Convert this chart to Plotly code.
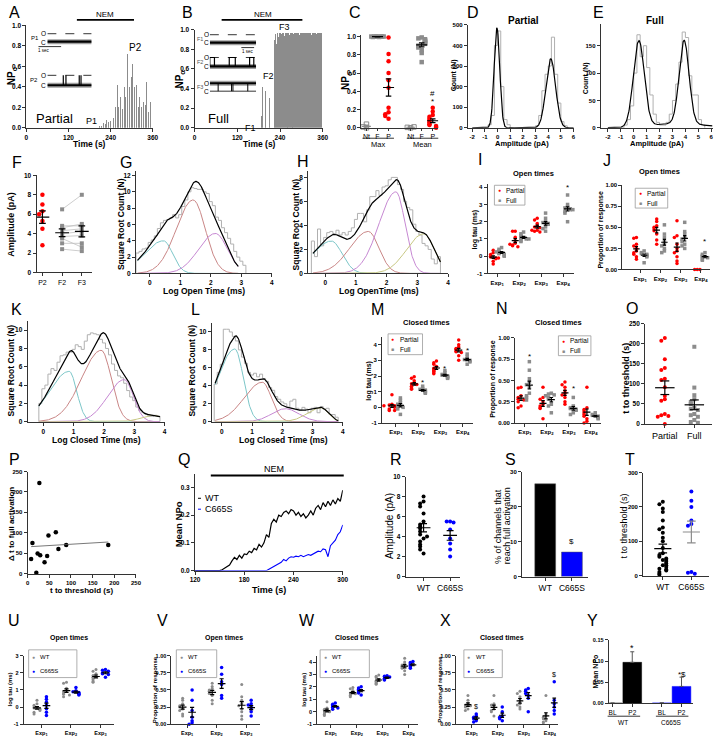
import numpy as np
import plotly.graph_objects as go

W, H = 720, 742
FONT = "Liberation Sans, Arial, Helvetica, sans-serif"
RED = "#ff0000"; GRAY = "#8c8c8c"; BLUE = "#0000ff"; BLK = "#000000"
AXC = "#333333"; HISTC = "#b0b0b0"
CYAN = "#7cc6c8"; ROSE = "#c98686"; PURP = "#c688d2"; OLIVE = "#c8c884"

# ======================= DATA =======================
# A  (partial responder NPo trace)
a_time = list(range(200, 360, 2))
a_npo = [0.00, 0.00, 0.01, 0.00, 0.02, 0.01, 0.03, 0.02, 0.04, 0.02,
         0.05, 0.03, 0.06, 0.04, 0.08, 0.05, 0.10, 0.06, 0.05, 0.09,
         0.07, 0.12, 0.09, 0.15, 0.10, 0.18, 0.12, 0.20, 0.10, 0.15,
         0.42, 0.20, 0.28, 0.15, 0.30, 0.22, 0.35, 0.18, 0.30, 0.25,
         0.40, 0.30, 0.55, 0.35, 0.72, 0.45, 0.60, 0.40, 0.65, 0.73,
         0.50, 0.62, 0.45, 0.55, 0.40, 0.48, 0.30, 0.42, 0.25, 0.35,
         0.20, 0.30, 0.18, 0.28, 0.20, 0.32, 0.15, 0.25, 0.18, 0.30,
         0.22, 0.45, 0.20, 0.35, 0.15, 0.28, 0.12, 0.25, 0.30, 0.20]
a_p2_openings = [0.36, 0.42, 0.72, 0.76]
# B  (full responder NPo trace)
b_f2_time = [184, 188, 191, 195, 199, 203, 206, 210, 214, 218, 221]
b_f2_npo = [0.35, 0.12, 0.42, 0.25, 0.38, 0.15, 0.44, 0.30, 0.40, 0.20, 0.35]
b_f3_time = list(range(224, 360, 2))
b_f3_npo = [0.90, 0.97, 0.96, 0.85, 0.97, 0.97, 0.93, 0.97, 0.97, 0.97,
            0.96, 0.97, 0.97, 0.97, 0.94, 0.97, 0.97, 0.97, 0.97, 0.97,
            0.97, 0.95, 0.97, 0.97, 0.97, 0.97, 0.97, 0.96, 0.97, 0.97,
            0.97, 0.97, 0.97, 0.97, 0.97, 0.95, 0.97, 0.97, 0.97, 0.97,
            0.97, 0.97, 0.97, 0.96, 0.97, 0.97, 0.97, 0.97, 0.97, 0.97,
            0.97, 0.97, 0.95, 0.97, 0.97, 0.97, 0.97, 0.97, 0.97, 0.96,
            0.97, 0.97, 0.97, 0.97, 0.96, 0.97, 0.97, 0.97]
b_f2_bursts = [(0.0, 0.10), (0.42, 0.55), (0.86, 0.95)]
b_f3_closings = [0.18, 0.47, 0.50, 0.82]
# C
c_cats = ["Nt", "F", "P", "Nt", "F", "P"]
c_max_nt = [0.0, 0.01, 0.04]
c_max_f = [1.0, 1.0, 0.995, 1.0, 1.0, 0.995, 1.0, 1.0, 1.0]
c_max_p = [0.99, 0.81, 0.73, 0.60, 0.52, 0.44, 0.22, 0.17, 0.15, 0.13, 0.10]
c_mean_nt = [0.0, 0.005, 0.01]
c_mean_f = [0.99, 0.98, 0.97, 0.96, 0.95, 0.94, 0.93, 0.92, 0.90, 0.88, 0.85, 0.82, 0.72]
c_mean_p = [0.22, 0.18, 0.14, 0.12, 0.10, 0.08, 0.06, 0.04, 0.03, 0.02, 0.01, 0.0, 0.005]
# D  amplitude histogram (partial), bins 0.25 pA from -1.0
d_counts = [0, 15, 60, 400, 470, 200, 40, 15, 0, 0, 0, 0, 0, 0, 0, 0,
            10, 60, 180, 260, 300, 440, 260, 120, 30, 10]
d_mu = [-0.05, 4.2]; d_sd = [0.22, 0.38]; d_amp = [485, 335]
# E  amplitude histogram (full)
e_counts = [0, 5, 15, 40, 100, 170, 130, 150, 110, 60, 25, 10, 5, 5,
            10, 25, 50, 80, 120, 175, 165, 95, 60, 60, 15, 5]
e_mu = [0.4, 3.9, 3.5]; e_sd = [0.42, 0.38, 2.0]; e_amp = [157, 152, 8]
# F
f_p2 = [8.0, 7.0, 6.3, 6.0, 5.3, 4.5, 2.8]
f_f2 = [6.5, 4.8, 4.6, 4.3, 4.0, 3.7, 3.5, 3.0, 2.4]
f_f3 = [8.0, 4.8, 5.0, 4.5, 4.2, 3.8, 2.6, 3.0, 2.2]
# G  open time histogram (partial), bins 0.1 log from -0.45
g_counts = [2.5, 2.7, 3.0, 3.1, 3.8, 4.1, 4.6, 5.5, 6.2, 6.5, 6.6, 6.8, 7.2, 6.8, 7.2,
            8.2, 9.0, 10.0, 10.5, 10.4, 10.3, 10.3, 10.0, 9.8, 8.8, 8.3, 6.9, 6.5, 5.6,
            5.0, 4.3, 3.6, 2.7, 2.0, 1.5, 1.0]
g_mu = [0.45, 1.42, 2.15]; g_sdl = [0.62, 0.55, 0.55]; g_sdr = [0.30, 0.40, 0.40]; g_amp = [4.0, 9.0, 4.9]
# H  open time histogram (full)
h_counts = [2.7, 1.4, 3.7, 2.3, 3.0, 3.4, 3.5, 3.3, 3.6, 3.2, 3.4, 3.2, 3.5, 3.8, 4.5,
            5.0, 5.0, 4.3, 5.3, 6.4, 6.4, 6.9, 6.5, 7.2, 7.3, 7.8, 8.0, 8.0, 7.4, 7.0,
            6.0, 5.5, 5.3, 4.1, 3.5, 3.2, 2.5, 2.3, 2.0, 1.2, 0.8, 1.4]
h_mu = [0.2, 1.4, 2.3, 3.2]; h_sdl = [0.6, 0.6, 0.55, 0.55]; h_sdr = [0.35, 0.35, 0.30, 0.35]; h_amp = [2.7, 3.5, 6.8, 3.3]
# I  open times log tau
i_partial = [[0.35, 0.2, 0.1, 0.0, -0.05, -0.1, -0.15, -0.3, -0.45, -0.1],
             [1.45, 1.45, 1.1, 0.9, 0.75, 0.65, 0.6, 0.55, 0.7],
             [2.2, 2.1, 1.9, 1.75, 1.7, 1.65, 1.5, 1.45, 1.4, 1.5],
             []]
i_full = [[0.5, 0.4, 0.3, 0.2, 0.15, 0.1, 0.05, 0.0, 0.25],
          [1.4, 1.3, 1.2, 1.1, 1.05, 1.0, 0.9, 0.85, 1.0],
          [2.5, 2.2, 2.0, 1.95, 1.9, 1.85, 1.7, 1.6, 1.45],
          [3.55, 3.0, 2.85, 2.8, 2.75, 2.7, 2.6, 2.5, 2.0, 2.7]]
# J  open times proportion
j_partial = [[0.38, 0.37, 0.30, 0.28, 0.25, 0.22, 0.20, 0.18, 0.15, 0.12],
             [0.60, 0.57, 0.52, 0.50, 0.48, 0.46, 0.42, 0.35, 0.30],
             [0.58, 0.40, 0.38, 0.30, 0.25, 0.22, 0.20, 0.15, 0.10, 0.07],
             [0.0, 0.0, 0.0]]
j_full = [[0.22, 0.20, 0.19, 0.18, 0.17, 0.16, 0.15, 0.08],
          [0.53, 0.42, 0.38, 0.33, 0.30, 0.28, 0.25, 0.22, 0.20],
          [0.56, 0.45, 0.42, 0.38, 0.36, 0.33, 0.30, 0.28, 0.25],
          [0.20, 0.18, 0.16, 0.15, 0.14, 0.12, 0.11]]
# K  closed time histogram (partial), bins 0.1 log from -0.15
k_counts = [2.0, 3.6, 4.0, 5.2, 5.8, 5.6, 6.5, 7.2, 7.3, 7.6, 7.6, 7.9, 8.4, 8.2, 7.9,
            8.8, 9.5, 9.7, 9.6, 9.5, 9.0, 8.6, 8.0, 7.3, 6.3, 5.6, 5.0, 4.8, 4.2, 3.4,
            2.7, 2.3, 1.6, 1.2, 1.0, 0.8, 0.6, 0.6, 0.7, 0.6]
k_mu = [0.85, 1.91, 2.67, 3.63]; k_sdl = [0.65, 0.65, 0.55, 0.40]; k_sdr = [0.25, 0.33, 0.30, 0.30]; k_amp = [5.5, 7.8, 4.6, 0.7]
# L  closed time histogram (full), bins 0.1 log from -0.25
l_counts = [4.2, 5.5, 6.4, 10.3, 10.3, 10.0, 9.5, 9.0, 8.0, 7.2, 6.5, 5.5, 5.2, 5.4, 5.0,
            5.3, 4.8, 4.5, 3.8, 3.5, 2.8, 2.5, 2.2, 2.0, 1.6, 2.3, 2.5, 1.5, 1.3, 1.6,
            1.4, 1.0, 1.5, 1.6, 1.0, 1.7, 1.4, 1.5, 0.8, 0.8, 0.5]
l_mu = [0.43, 1.34, 2.10, 3.28]; l_sdl = [0.56, 0.60, 0.45, 0.45]; l_sdr = [0.28, 0.30, 0.45, 0.25]; l_amp = [8.1, 4.4, 1.45, 1.55]
# M  closed times log tau
m_partial = [[0.8, 0.2, 0.15, 0.1, 0.05, 0.0, -0.1, -0.2, -0.2, 0.1],
             [1.95, 1.85, 1.7, 1.55, 1.5, 1.45, 1.35, 1.3, 1.2, 1.15],
             [2.95, 2.85, 2.75, 2.6, 2.5, 2.45, 2.35, 2.3, 2.2, 2.15],
             [4.3, 4.0, 3.85, 3.75, 3.7, 3.6, 3.55, 3.5, 3.3, 3.0]]
m_full = [[0.6, 0.45, 0.3, 0.2, 0.1, 0.05, 0.0, -0.1, -0.45],
          [1.35, 1.2, 1.15, 1.1, 1.05, 1.0, 0.95, 0.9],
          [2.35, 2.2, 2.1, 2.05, 2.0, 1.95, 1.9, 1.85],
          [3.4, 3.25, 3.1, 3.05, 3.0, 2.95, 2.9, 2.75]]
# N  closed times proportion
n_partial = [[0.42, 0.41, 0.32, 0.30, 0.28, 0.27, 0.25, 0.20, 0.18],
             [0.42, 0.30, 0.28, 0.25, 0.22, 0.20, 0.18, 0.17, 0.05],
             [0.48, 0.45, 0.42, 0.38, 0.35, 0.33, 0.30, 0.25, 0.22],
             [0.42, 0.18, 0.16, 0.14, 0.12, 0.10, 0.08, 0.05, 0.02, 0.0]]
n_full = [[0.72, 0.62, 0.52, 0.48, 0.45, 0.42, 0.35, 0.32, 0.30, 0.27],
          [0.35, 0.34, 0.33, 0.32, 0.30, 0.28, 0.22, 0.20, 0.12],
          [0.30, 0.20, 0.18, 0.17, 0.16, 0.15, 0.12, 0.10],
          [0.12, 0.10, 0.09, 0.08, 0.07, 0.06, 0.05]]
# O  time to threshold
o_partial = [215, 208, 162, 140, 135, 113, 110, 92, 70, 62, 58, 25, 22, 20, 18, 0]
o_full = [193, 91, 72, 62, 55, 50, 40, 38, 35, 25, 22, 18, 10, 5, 3]
# P  correlation
p_t_threshold = [8, 11, 20, 23, 29, 27, 39, 45, 48, 65, 71, 89, 186]
p_dt_full = [36, 75, 2, 49, 45, 222, 28, 43, 93, 101, 60, 70, 70]
# Q  mean NPo time course
q_time = list(range(120, 301, 3))
q_wt = [0.0] * 11 + [0.003, 0.008, 0.012, 0.02, 0.035, 0.048, 0.04, 0.055, 0.045, 0.06,
                     0.058, 0.07, 0.065, 0.08, 0.075, 0.095, 0.085, 0.1, 0.13, 0.12,
                     0.17, 0.185, 0.175, 0.2, 0.195, 0.21, 0.215, 0.205, 0.22, 0.215,
                     0.2, 0.21, 0.195, 0.205, 0.19, 0.2, 0.215, 0.2, 0.225, 0.235,
                     0.22, 0.245, 0.23, 0.25, 0.235, 0.255, 0.24, 0.26, 0.25, 0.29]
q_c665s = [0.0] * 30 + [0.005, 0.01, 0.015, 0.02, 0.025, 0.03, 0.04, 0.035, 0.045, 0.05,
                        0.048, 0.052, 0.05, 0.055, 0.05, 0.055, 0.058, 0.055, 0.06, 0.065,
                        0.07, 0.068, 0.078, 0.075, 0.05, 0.09, 0.1, 0.11, 0.13, 0.14, 0.165]
# R, S, T
r_wt = [8.0, 7.5, 7.3, 7.0, 3.8, 6.3, 5.5, 5.2, 5.0, 4.8, 4.5, 4.2, 4.0, 3.5, 3.2, 3.0, 2.7, 2.3]
r_c665s = [5.5, 5.5, 5.4, 4.7, 3.8, 3.3, 2.7, 2.0]
s_groups = ["WT", "C665S"]
s_pct_full = [26.5, 7.0]
t_wt = [215, 208, 195, 185, 160, 140, 135, 125, 110, 100, 45, 30, 80, 65, 60, 55, 50, 45, 40, 35,
        30, 25, 20, 18, 15, 10, 5, 2]
t_c665s = [245, 218, 200, 160, 150, 145, 10, 8, 5]
# U-X  WT vs C665S kinetics
u_wt = [[0.4, 0.2, 0.1, 0.0, -0.05, -0.1, -0.15, -0.2, -0.3, -0.4],
        [1.45, 1.4, 1.1, 0.95, 0.9, 0.8, 0.75, 0.7, 0.6],
        [2.2, 2.1, 1.95, 1.85, 1.75, 1.7, 1.6, 1.5, 1.45]]
u_c665s = [[0.6, 0.45, 0.3, 0.1, -0.1, -0.3, -0.5],
           [1.15, 0.95, 0.9, 0.85, 0.8, 0.75, 0.7],
           [2.2, 2.15, 2.1, 2.0, 1.95, 1.9, 1.75]]
v_wt = [[0.38, 0.35, 0.30, 0.27, 0.25, 0.22, 0.20, 0.15, 0.12],
        [0.60, 0.55, 0.52, 0.50, 0.48, 0.45, 0.42, 0.35, 0.30],
        [0.58, 0.40, 0.35, 0.30, 0.27, 0.22, 0.18, 0.12, 0.07]]
v_c665s = [[0.50, 0.35, 0.20, 0.10, 0.05, 0.02, 0.0],
           [0.83, 0.73, 0.62, 0.58, 0.42, 0.38],
           [0.35, 0.30, 0.28, 0.25, 0.22, 0.18, 0.12]]
w_wt = [[0.8, 0.3, 0.2, 0.1, 0.05, 0.0, -0.1, -0.2, -0.3],
        [1.95, 1.85, 1.7, 1.55, 1.5, 1.45, 1.35, 1.3, 1.2],
        [2.95, 2.85, 2.75, 2.6, 2.5, 2.45, 2.35, 2.3, 2.2],
        [4.3, 4.0, 3.85, 3.75, 3.65, 3.6, 3.5, 3.3, 3.0]]
w_c665s = [[0.7, 0.6, 0.5, 0.4, 0.35, 0.3, 0.2],
           [2.0, 1.9, 1.8, 1.7, 1.6, 1.5, 1.35],
           [2.9, 2.85, 2.8, 2.7, 2.6, 2.55],
           [4.05, 3.95, 3.85, 3.75, 3.7, 3.6, 3.5]]
x_wt = [[0.42, 0.35, 0.30, 0.28, 0.27, 0.25, 0.22, 0.20],
        [0.42, 0.30, 0.28, 0.25, 0.22, 0.20, 0.18, 0.12],
        [0.48, 0.45, 0.40, 0.35, 0.30, 0.28, 0.25, 0.22],
        [0.42, 0.15, 0.12, 0.10, 0.08, 0.05, 0.03, 0.02]]
x_c665s = [[0.15, 0.12, 0.10, 0.08, 0.05, 0.03],
           [0.25, 0.18, 0.12, 0.10, 0.08, 0.05],
           [0.52, 0.50, 0.48, 0.45, 0.42, 0.38, 0.18],
           [0.62, 0.35, 0.30, 0.25, 0.20, 0.15]]
# Y  mean NPo baseline vs P2
y_conditions = ["BL", "P2"]
y_wt = [0.0005, 0.097]; y_wt_err = [0.0, 0.025]
y_c665s = [0.001, 0.040]; y_c665s_err = [0.0, 0.022]
exp3 = ["Exp<sub>1</sub>", "Exp<sub>2</sub>", "Exp<sub>3</sub>"]
exp4 = exp3 + ["Exp<sub>4</sub>"]

# ======================= HELPERS =======================
fig = go.Figure()
ann, shp = [], []
lay = dict(width=W, height=H, margin=dict(l=0, r=0, t=0, b=0, pad=0),
           paper_bgcolor="white", plot_bgcolor="rgba(0,0,0,0)", showlegend=False,
           font=dict(family=FONT, size=7, color="black"), barmode="overlay", bargap=0)
cnt = [0]


def fx(x):
    return x / W


def fy(y):
    return 1 - y / H


def axes(x0, x1, yt, yb, xr, yr, xtv=None, xtt=None, ytv=None, ytt=None,
         tfs=6.5, bold=True, xbold=None, xtfs=None, hidden=False, xticklen=3):
    cnt[0] += 1
    k = "" if cnt[0] == 1 else str(cnt[0])
    if xbold is None:
        xbold = bold
    tf = dict(family=FONT, size=tfs, color="black", weight="bold" if bold else "normal")
    xtf = dict(family=FONT, size=xtfs or tfs, color="black", weight="bold" if xbold else "normal")
    base = dict(showgrid=False, zeroline=False, showline=not hidden, linecolor=AXC, linewidth=1,
                ticks="" if hidden else "outside", ticklen=3, tickwidth=1, tickcolor=AXC,
                showticklabels=not hidden, fixedrange=True)
    xa = dict(base, domain=[fx(x0), fx(x1)], range=xr, anchor="y" + k, tickfont=xtf, ticklen=xticklen)
    ya = dict(base, domain=[fy(yb), fy(yt)], range=yr, anchor="x" + k, tickfont=tf)
    if xtv is not None:
        xa.update(tickmode="array", tickvals=xtv, ticktext=xtt if xtt is not None else [str(v) for v in xtv])
    if ytv is not None:
        ya.update(tickmode="array", tickvals=ytv, ticktext=ytt if ytt is not None else [str(v) for v in ytv])
    lay["xaxis" + k] = xa
    lay["yaxis" + k] = ya
    return ("x" + k, "y" + k)


def sc(ax, x, y, **kw):
    fig.add_trace(go.Scatter(x=list(x), y=list(y), xaxis=ax[0], yaxis=ax[1], cliponaxis=False,
                             hoverinfo="skip", **kw))


def txt(x, y, s, size=7, bold=False, color="black", angle=0, xanchor="center", yanchor="middle", ref=None):
    d = dict(text=s, showarrow=False,
             font=dict(family=FONT, size=size, color=color, weight="bold" if bold else "normal"),
             textangle=angle, xanchor=xanchor, yanchor=yanchor)
    if ref is None:
        d.update(x=fx(x), y=fy(y), xref="paper", yref="paper")
    else:
        d.update(x=x, y=y, xref=ref[0], yref=ref[1])
    ann.append(d)


def hline(x0, x1, y, width=1.0, color="black"):
    shp.append(dict(type="line", xref="paper", yref="paper", x0=fx(x0), x1=fx(x1),
                    y0=fy(y), y1=fy(y), line=dict(color=color, width=width)))


def letter(x, y, s):
    txt(x, y, s, size=16)


def swarm(vals, step, tol):
    pattern = [0, -1, 1, -2, 2, -3, 3, -4, 4, -5, 5]
    offs, seen = [], []
    for v in vals:
        k = sum(1 for s in seen if abs(s - v) < tol)
        offs.append(pattern[min(k, 10)] * step)
        seen.append(v)
    return offs


def dots(ax, xc, vals, color, sym="circle", size=4, step=0.1, tol=0.1, mean=True,
         mw=0.2, cw=0.1, mcol="black", mlw=1.2):
    if len(vals) == 0:
        return
    offs = swarm(vals, step, tol)
    sc(ax, [xc + o for o in offs], vals, mode="markers",
       marker=dict(color=color, size=size, symbol=sym, line=dict(width=1 if "open" in sym else 0, color=color)))
    if mean and len(vals) > 1:
        m = float(np.mean(vals))
        s = float(np.std(vals, ddof=1) / np.sqrt(len(vals)))
        xs = [xc - mw, xc + mw, None, xc, xc, None, xc - cw, xc + cw, None, xc - cw, xc + cw]
        ys = [m, m, None, m - s, m + s, None, m - s, m - s, None, m + s, m + s]
        sc(ax, xs, ys, mode="lines", line=dict(color=mcol, width=mlw))


def stairs(ax, start, width, counts, color=HISTC):
    edges = start + width * np.arange(len(counts) + 1)
    xs, ys = [edges[0]], [0]
    for i, c in enumerate(counts):
        xs += [edges[i], edges[i + 1]]
        ys += [c, c]
    xs.append(edges[-1]); ys.append(0)
    sc(ax, xs, ys, mode="lines", line=dict(color=color, width=1))


def comp(x, m, sl, sr, a):
    s = np.where(x < m, sl, sr)
    return a * np.exp(-0.5 * ((x - m) / s) ** 2)


def fits(ax, x0, x1, mus, sdl, sdr, amps, cols, total_w=1.2):
    xg = np.linspace(x0, x1, 300)
    tot = np.zeros_like(xg)
    for m, a_, b_, amp, c in zip(mus, sdl, sdr, amps, cols):
        yv = comp(xg, m, a_, b_, amp)
        tot += yv
        if c is not None:
            sc(ax, xg, yv, mode="lines", line=dict(color=c, width=1))
    sc(ax, xg, tot, mode="lines", line=dict(color=BLK, width=total_w))


def legend_box(x0, y0, x1, y1, entries, size=6.5):
    shp.append(dict(type="rect", xref="paper", yref="paper", x0=fx(x0), x1=fx(x1),
                    y0=fy(y1), y1=fy(y0), line=dict(color="#999999", width=0.8)))
    n = len(entries)
    for i, (glyph, col, label) in enumerate(entries):
        yy = y0 + (y1 - y0) * (i + 0.5) / n
        txt(x0 + 5, yy, glyph, size=5, color=col)
        txt(x0 + 10, yy, label, size=size, xanchor="left")


def inset(x0, x1, yO, yC):
    span = yC - yO
    return axes(x0, x1, yO - 0.5 * span, yC + 0.5 * span, [0, 1], [-0.5, 1.5], hidden=True)


def closed_trace(ax, openings=(), bursts=()):
    sc(ax, [0, 1], [1, 1], mode="lines", line=dict(color=BLK, width=0.8, dash="dash"))
    sc(ax, [0, 1], [0, 0], mode="lines", line=dict(color="#a0a0a0", width=5))
    sc(ax, [0, 1], [0, 0], mode="lines", line=dict(color=BLK, width=2.2))
    xs, ys = [], []
    for t in openings:
        xs += [t, t, None]; ys += [0, 1, None]
    for a_, b_ in bursts:
        xs += [a_, a_, b_, b_, None]; ys += [0, 1, 1, 0, None]
    if xs:
        sc(ax, xs, ys, mode="lines", line=dict(color=BLK, width=1.2))


def open_trace(ax, closings=()):
    sc(ax, [0, 1], [1, 1], mode="lines", line=dict(color="#a0a0a0", width=5))
    sc(ax, [0, 1], [1, 1], mode="lines", line=dict(color=BLK, width=2.2))
    sc(ax, [0, 1], [0, 0], mode="lines", line=dict(color=BLK, width=0.8))
    xs, ys = [], []
    for t in closings:
        xs += [t, t, None]; ys += [1, 0, None]
    sc(ax, xs, ys, mode="lines", line=dict(color=BLK, width=1))


npo_t = ["0.0", "0.2", "0.4", "0.6", "0.8", "1.0"]
npo_v = [0, 0.2, 0.4, 0.6, 0.8, 1.0]
prop_v = [0, 0.25, 0.5, 0.75, 1.0]
prop_t = ["0.00", "0.25", "0.50", "0.75", "1.00"]

# ======================= ROW 1 =======================
# A
axA = axes(21.7, 150, 21.7, 125, [0, 360], [0, 1], xtv=[0, 120, 240, 360], ytv=npo_v, ytt=npo_t)
fig.add_trace(go.Bar(x=a_time, y=a_npo, width=1.1, marker=dict(color="#8c8c8c", line=dict(width=0)),
                     xaxis=axA[0], yaxis=axA[1], hoverinfo="skip"))
letter(10, 9, "A")
txt(7, 73, "NP<sub>o</sub>", size=10, bold=True, angle=-90)
txt(86, 141, "Time (s)", size=8.5, bold=True)
txt(29, 116, "Partial", size=13, xanchor="left")
txt(88, 118, "P1", size=9)
txt(133, 44, "P2", size=10)
txt(102, 11, "NEM", size=8)
hline(73, 131, 16, width=1.8)
axA1 = inset(43, 88, 30, 38)
closed_trace(axA1)
axA2 = inset(43, 88, 72, 82)
closed_trace(axA2, openings=a_p2_openings)
for (xx, yy, s) in [(30, 34, "P1"), (39, 30, "O"), (39, 38.5, "C"), (29, 77, "P2"), (39, 72, "O"), (39, 82, "C")]:
    txt(xx, yy, s, size=6.5 if s in ("O", "C") else 6)
hline(34, 57, 43, width=0.8)
txt(40, 47, "1 sec", size=4.5)

# B
axB = axes(192.5, 322.7, 26, 125, [0, 360], [0, 1], xtv=[0, 120, 240, 360], ytv=npo_v, ytt=npo_t)
fig.add_trace(go.Bar(x=b_f2_time, y=b_f2_npo, width=1.0, marker=dict(color="#8c8c8c", line=dict(width=0)),
                     xaxis=axB[0], yaxis=axB[1], hoverinfo="skip"))
fig.add_trace(go.Bar(x=b_f3_time, y=b_f3_npo, width=2.05, marker=dict(color="#8c8c8c", line=dict(width=0)),
                     xaxis=axB[0], yaxis=axB[1], hoverinfo="skip"))
letter(185, 9, "B")
txt(178, 76, "NP<sub>o</sub>", size=10, bold=True, angle=-90)
txt(258, 141, "Time (s)", size=8.5, bold=True)
txt(204, 116, "Full", size=13, xanchor="left")
txt(249, 125, "F1", size=9)
txt(268, 73, "F2", size=9)
txt(284, 23, "F3", size=9)
txt(262, 11, "NEM", size=8)
hline(220, 302, 16, width=1.8)
axB1 = inset(208, 255, 31, 39)
closed_trace(axB1)
axB2 = inset(208, 255, 54, 63)
closed_trace(axB2, bursts=b_f2_bursts)
axB3 = inset(208, 255, 80, 88)
open_trace(axB3, closings=b_f3_closings)
for (xx, yy, s) in [(198, 35, "F1"), (205, 31, "O"), (205, 39, "C"), (198, 59, "F2"), (205, 54, "O"),
                    (205, 63, "C"), (198, 84, "F3"), (205, 80, "O"), (205, 88, "C")]:
    txt(xx, yy, s, size=6.5 if s in ("O", "C") else 5.5, color="#555555" if s[0] == "F" else "black")
hline(240, 253, 44, width=0.8)
txt(247, 48, "1 sec", size=4.5)

# C
axC = axes(362, 440, 31, 125, [-0.45, 6.5], [0, 1.02], xtv=[0, 1, 2, 4, 5, 6], xtt=c_cats,
           ytv=npo_v, ytt=npo_t, xbold=False, xtfs=7, xticklen=2)
dots(axC, 0, c_max_nt, GRAY, "square-open", 4.5, 0.3, 0.03, mw=0.4, cw=0.2, mcol=GRAY)
dots(axC, 1, c_max_f, GRAY, "square", 4.5, 0.14, 0.02, mw=0.5, cw=0.25)
dots(axC, 2, c_max_p, RED, "circle", 4.5, 0.3, 0.025, mw=0.5, cw=0.25)
dots(axC, 4, c_mean_nt, GRAY, "square-open", 4.5, 0.3, 0.03, mw=0.4, cw=0.2, mcol=GRAY)
dots(axC, 5, c_mean_f, GRAY, "square", 4.5, 0.3, 0.025, mw=0.5, cw=0.25)
dots(axC, 6, c_mean_p, RED, "circle", 4.5, 0.3, 0.025, mw=0.5, cw=0.25)
for (xx, yy, s) in [(1, 1.08, "#"), (2, 1.14, "#"), (2, 1.06, "*"), (5, 1.09, "#"), (6, 0.38, "#"), (6, 0.29, "*")]:
    txt(xx, yy, s, size=8, ref=axC)
letter(355, 9, "C")
txt(347, 78, "NP<sub>o</sub>", size=10, bold=True, angle=-90)
hline(363, 395, 135.5, width=0.8)
hline(408, 440, 135.5, width=0.8)
txt(379, 141.5, "Max", size=7.5)
txt(424, 141.5, "Mean", size=7.5)

# D
axD = axes(470, 578, 21, 125, [-2.35, 6.05], [0, 500], xtv=list(range(-2, 7)),
           ytv=[0, 100, 200, 300, 400, 500], tfs=6)
stairs(axD, -1.0, 0.25, d_counts)
fits(axD, -2.0, 6.0, d_mu, d_sd, d_sd, d_amp, [None, None])
letter(475, 9, "D")
txt(527, 17, "Partial", size=10, bold=True)
txt(456, 72, "Count (N)", size=7, bold=True, angle=-90)
txt(525, 141, "Amplitude (pA)", size=7.5, bold=True)

# E
axE = axes(605, 718.5, 20, 125, [-2.55, 6.1], [0, 190], xtv=list(range(-2, 7)),
           ytv=[0, 50, 100, 150], tfs=6)
stairs(axE, -1.0, 0.25, e_counts)
fits(axE, -2.0, 6.1, e_mu, e_sd, e_sd, e_amp, [None, None, None])
letter(603, 9, "E")
txt(660, 17, "Full", size=10, bold=True)
txt(590, 75, "Count (N)", size=7, bold=True, angle=-90)
txt(662, 141, "Amplitude (pA)", size=7.5, bold=True)

# ======================= ROW 2 =======================
# F
axF = axes(32, 88, 173, 271, [-0.3, 2.5], [0, 10], xtv=[0, 1, 2], xtt=["P2", "F2", "F3"],
           ytv=[0, 2, 4, 6, 8, 10], xbold=False, xtfs=7)
sc(axF, sum([[1, 2, None] for _ in f_f2], []), sum([[a_, b_, None] for a_, b_ in zip(f_f2, f_f3)], []),
   mode="lines", line=dict(color="#c0c0c0", width=0.8))
dots(axF, 0, f_p2, RED, "circle", 4.5, 0.17, 0.3, mw=0.35, cw=0.17)
sc(axF, [1] * len(f_f2), f_f2, mode="markers", marker=dict(color=GRAY, size=4, symbol="square"))
sc(axF, [2] * len(f_f3), f_f3, mode="markers", marker=dict(color=GRAY, size=4, symbol="square"))
dots(axF, 1, f_f2, GRAY, "square", 0.1, 0.0, 0.3, mw=0.35, cw=0.17)
dots(axF, 2, f_f3, GRAY, "square", 0.1, 0.0, 0.3, mw=0.35, cw=0.17)
letter(12, 160, "F")
txt(6, 222, "Amplitude (pA)", size=9, bold=True, angle=-90)

# G
axG = axes(133, 271, 169, 272, [-0.45, 4], [0, 12.5], xtv=[0, 1, 2, 3, 4],
           ytv=[0, 2, 4, 6, 8, 10, 12])
stairs(axG, -0.45, 0.1, g_counts)
fits(axG, -0.4, 2.9, g_mu, g_sdl, g_sdr, g_amp, [CYAN, ROSE, PURP])
letter(123, 160, "G")
txt(118, 222, "Square Root Count (N)", size=8.5, bold=True, angle=-90)
txt(202, 290, "Log Open Time (ms)", size=8.5, bold=True)

# H
axH = axes(308, 450, 169, 272, [-0.55, 4], [0, 8.5], xtv=[0, 1, 2, 3, 4], ytv=[0, 2, 4, 6, 8])
stairs(axH, -0.45, 0.1, h_counts)
fits(axH, -0.4, 3.75, h_mu, h_sdl, h_sdr, h_amp, [CYAN, ROSE, PURP, OLIVE])
letter(303, 159, "H")
txt(295, 222, "Square Root Count (N)", size=8.5, bold=True, angle=-90)
txt(380, 290, "Log OpenTime (ms)", size=8.5, bold=True)

# I
axI = axes(490, 578, 181.5, 272, [0.56, 4.5], [-1, 4.2], xtv=[1, 2, 3, 4], xtt=exp4,
           ytv=[-1, 0, 1, 2, 3, 4], tfs=6)
for i in range(4):
    dots(axI, i + 1 - 0.18, i_partial[i], RED, "circle", 3.5, 0.12, 0.12, mw=0.16, cw=0.08)
    dots(axI, i + 1 + 0.2, i_full[i], GRAY, "square", 3.5, 0.12, 0.12, mw=0.16, cw=0.08)
txt(4.2, 4.0, "*", size=8, ref=axI)
letter(482, 157, "I")
txt(537, 171, "Open times", size=7.5, bold=True)
txt(477, 228, "log tau (ms)", size=7, bold=True, angle=-90)
legend_box(497, 183, 528, 203, [("●", RED, "Partial"), ("■", GRAY, "Full")])

# J
axJ = axes(627, 716, 183, 268, [0.13, 4.45], [0, 1.0], xtv=[1, 2, 3, 4], xtt=exp4,
           ytv=prop_v, ytt=prop_t, tfs=6)
for i in range(4):
    dots(axJ, i + 1 - 0.18, j_partial[i], RED, "circle", 3.5, 0.13, 0.03, mw=0.16, cw=0.08,
         mean=(i < 3))
    dots(axJ, i + 1 + 0.2, j_full[i], GRAY, "square", 3.5, 0.13, 0.03, mw=0.16, cw=0.08)
txt(4.2, 0.33, "*", size=8, ref=axJ)
letter(611, 158, "J")
txt(665, 169, "Open times", size=7.5, bold=True)
txt(605, 228, "Proportion of response", size=7, bold=True, angle=-90)
legend_box(640, 186, 673, 206, [("●", RED, "Partial"), ("■", GRAY, "Full")])

# ======================= ROW 3 =======================
# K
axK = axes(23, 162, 320, 421.7, [-0.52, 4], [0, 11], xtv=[0, 1, 2, 3, 4], ytv=[0, 2, 4, 6, 8, 10])
stairs(axK, -0.15, 0.1, k_counts)
fits(axK, -0.15, 3.85, k_mu, k_sdl, k_sdr, k_amp, [CYAN, ROSE, PURP, OLIVE])
letter(12, 308, "K")
txt(6, 370, "Square Root Count (N)", size=8.5, bold=True, angle=-90)
txt(93, 440, "Log Closed Time (ms)", size=8.5, bold=True)

# L
axL = axes(210, 343, 322, 421.7, [-0.33, 4], [0, 11], xtv=[0, 1, 2, 3, 4], ytv=[0, 2, 4, 6, 8, 10])
stairs(axL, -0.25, 0.1, l_counts)
fits(axL, -0.22, 3.85, l_mu, l_sdl, l_sdr, l_amp, [CYAN, ROSE, PURP, OLIVE])
letter(193, 308, "L")
txt(189, 370, "Square Root Count (N)", size=8.5, bold=True, angle=-90)
txt(283, 440, "Log Closed Time (ms)", size=8.5, bold=True)

# M
axM = axes(383, 475, 336, 423, [0.38, 4.45], [-1, 4.5], xtv=[1, 2, 3, 4], xtt=exp4,
           ytv=[-1, 0, 1, 2, 3, 4], tfs=6)
for i in range(4):
    dots(axM, i + 1 - 0.18, m_partial[i], RED, "circle", 3.5, 0.12, 0.12, mw=0.16, cw=0.08)
    dots(axM, i + 1 + 0.2, m_full[i], GRAY, "square", 3.5, 0.12, 0.12, mw=0.16, cw=0.08)
for (xx, yy) in [(2.2, 1.6), (3.2, 2.5), (4.2, 3.65)]:
    txt(xx, yy, "*", size=8, ref=axM)
letter(378, 308, "M")
txt(428, 322, "Closed times", size=7.5, bold=True)
txt(370, 380, "log tau (ms)", size=7, bold=True, angle=-90)
legend_box(389, 333, 424, 354, [("●", RED, "Partial"), ("■", GRAY, "Full")])

# N
axN = axes(518, 605, 337, 423, [0.55, 4.45], [0, 1.0], xtv=[1, 2, 3, 4], xtt=exp4,
           ytv=prop_v, ytt=prop_t, tfs=6)
for i in range(4):
    dots(axN, i + 1 - 0.18, n_partial[i], RED, "circle", 3.5, 0.13, 0.03, mw=0.16, cw=0.08)
    dots(axN, i + 1 + 0.2, n_full[i], GRAY, "square", 3.5, 0.13, 0.03, mw=0.16, cw=0.08)
for (xx, yy) in [(1.2, 0.78), (3.2, 0.41)]:
    txt(xx, yy, "*", size=8, ref=axN)
letter(505, 307, "N")
txt(562, 322, "Closed times", size=7.5, bold=True)
txt(496, 378, "Proportion of response", size=7, bold=True, angle=-90)
legend_box(562, 335, 595, 355, [("●", RED, "Partial"), ("■", GRAY, "Full")])

# O
axO = axes(650, 718, 323, 424, [-0.67, 1.6], [0, 250], xtv=[0, 1], xtt=["Partial", "Full"],
           ytv=[0, 50, 100, 150, 200, 250], xbold=False, xtfs=9)
dots(axO, 0, o_partial, RED, "circle", 4, 0.12, 8, mw=0.33, cw=0.15)
dots(axO, 1, o_full, GRAY, "square", 4, 0.12, 8, mw=0.33, cw=0.15)
letter(637, 307, "O")
txt(631, 378, "t to threshold (s)", size=9, bold=True, angle=-90)

# ======================= ROW 4 =======================
# P
axP = axes(23, 133, 472, 575, [0, 250], [0, 250], xtv=[0, 50, 100, 150, 200, 250],
           ytv=[0, 50, 100, 150, 200, 250], tfs=6)
sc(axP, p_t_threshold, p_dt_full, mode="markers", marker=dict(color=BLK, size=4.5))
slope, icpt = np.polyfit(p_t_threshold, p_dt_full, 1)
xl = np.array([min(p_t_threshold), max(p_t_threshold)])
sc(axP, xl, slope * xl + icpt, mode="lines", line=dict(color="#555555", width=0.8))
letter(10, 460, "P")
txt(6, 525, "Δ t to full activation", size=8, bold=True, angle=-90)
txt(78, 592, "t to threshold (s)", size=8, bold=True)

# Q
axQ = axes(193, 343, 474, 572, [120, 300], [0, 0.35], xtv=[120, 180, 240, 300],
           ytv=[0, 0.1, 0.2, 0.3], ytt=["0.0", "0.1", "0.2", "0.3"])
sc(axQ, q_time, q_wt, mode="lines", line=dict(color=BLK, width=1.2))
sc(axQ, q_time, q_c665s, mode="lines", line=dict(color=BLUE, width=1.1))
letter(182, 460, "Q")
txt(176, 525, "Mean NPo", size=9.5, bold=True, angle=-90)
txt(268, 592, "Time (s)", size=9, bold=True)
txt(273, 469, "NEM", size=9)
hline(209, 344, 476, width=2)
hline(196, 199, 499, width=1, color=BLK)
txt(201, 499, "WT", size=9, xanchor="left")
hline(196, 199, 510, width=1, color=BLUE)
txt(201, 510, "C665S", size=9, xanchor="left")

# R
axR = axes(407, 462, 477, 578, [-0.67, 1.37], [0, 10], xtv=[0, 1], xtt=s_groups,
           ytv=[0, 2, 4, 6, 8, 10], xbold=False, xtfs=8.5)
dots(axR, 0, r_wt, BLK, "circle", 4, 0.13, 0.3, mw=0.26, cw=0.13)
dots(axR, 1, r_c665s, BLUE, "circle", 4, 0.13, 0.3, mw=0.26, cw=0.13)
letter(397, 460, "R")
txt(390, 527, "Amplitude (pA)", size=10, angle=-90)

# S
axS = axes(525, 592, 472, 578, [-0.87, 1.6], [0, 30], xtv=[0, 1], xtt=s_groups,
           ytv=[0, 10, 20, 30], xbold=False, xtfs=8.5, tfs=6)
fig.add_trace(go.Bar(x=[0, 1], y=s_pct_full, width=0.78, marker=dict(color=[BLK, BLUE], line=dict(color="#555555", width=0.5)),
                     xaxis=axS[0], yaxis=axS[1], hoverinfo="skip"))
txt(1, 10.0, "$", size=8, ref=axS)
letter(513, 460, "S")
txt(500.5, 527, "% of channels that", size=9, angle=-90)
txt(510, 527, "reach full activation", size=9, angle=-90)

# T
axT = axes(648, 715, 473, 577, [-0.69, 1.62], [0, 300], xtv=[0, 1], xtt=s_groups,
           ytv=[0, 100, 200, 300], xbold=False, xtfs=8.5, tfs=6)
dots(axT, 0, t_wt, BLK, "circle", 4, 0.12, 8, mw=0.3, cw=0.15)
dots(axT, 1, t_c665s, BLUE, "circle", 4, 0.12, 8, mw=0.3, cw=0.15, mcol=GRAY)
letter(635, 460, "T")
txt(629, 527, "t to threshold (s)", size=9, angle=-90)

# ======================= ROW 5 =======================
WTC = "#8c8c8c"
# U
axU = axes(19, 111, 658, 727, [0.4, 3.47], [-1, 3], xtv=[1, 2, 3], xtt=exp3, ytv=[-1, 0, 1, 2, 3], tfs=5.5)
for i in range(3):
    dots(axU, i + 1 - 0.15, u_wt[i], WTC, "circle", 3, 0.1, 0.12, mw=0.13, cw=0.07)
    dots(axU, i + 1 + 0.17, u_c665s[i], BLUE, "circle", 3.5, 0.1, 0.12, mw=0.13, cw=0.07)
letter(9, 622, "U")
txt(65, 640, "Open times", size=7, bold=True)
txt(6, 692, "log tau (ms)", size=6, bold=True, angle=-90)
legend_box(24, 652, 73, 680, [("●", WTC, "WT"), ("●", BLUE, "C665S")], size=6)

# V
axV = axes(169, 259, 658, 727, [0.47, 3.47], [0, 1.0], xtv=[1, 2, 3], xtt=exp3, ytv=prop_v, ytt=prop_t, tfs=5.5)
for i in range(3):
    dots(axV, i + 1 - 0.15, v_wt[i], WTC, "circle", 3, 0.1, 0.03, mw=0.13, cw=0.07)
    dots(axV, i + 1 + 0.17, v_c665s[i], BLUE, "circle", 3.5, 0.1, 0.03, mw=0.13, cw=0.07)
letter(160, 622, "V")
txt(222, 640, "Open times", size=7, bold=True)
txt(153, 692, "Proportion of response", size=6, bold=True, angle=-90)
legend_box(174, 652, 215, 680, [("●", WTC, "WT"), ("●", BLUE, "C665S")], size=6)

# W
axW = axes(317, 419, 658, 727, [0.47, 4.35], [-1, 4.5], xtv=[1, 2, 3, 4], xtt=exp4, ytv=[-1, 0, 1, 2, 3, 4], tfs=5.5)
for i in range(4):
    dots(axW, i + 1 - 0.15, w_wt[i], WTC, "circle", 3, 0.1, 0.12, mw=0.13, cw=0.07)
    dots(axW, i + 1 + 0.17, w_c665s[i], BLUE, "circle", 3.5, 0.1, 0.12, mw=0.13, cw=0.07)
letter(307, 622, "W")
txt(357, 640, "Closed times", size=7, bold=True)
txt(304, 692, "log tau (ms)", size=6, bold=True, angle=-90)
legend_box(320, 652, 370, 680, [("●", WTC, "WT"), ("●", BLUE, "C665S")], size=6)

# X
axX = axes(458, 562, 658, 727, [0.39, 4.33], [0, 1.0], xtv=[1, 2, 3, 4], xtt=exp4, ytv=prop_v, ytt=prop_t, tfs=5.5)
for i in range(4):
    dots(axX, i + 1 - 0.15, x_wt[i], WTC, "circle", 3, 0.1, 0.03, mw=0.13, cw=0.07)
    dots(axX, i + 1 + 0.17, x_c665s[i], BLUE, "circle", 3.5, 0.1, 0.03, mw=0.13, cw=0.07)
txt(1.17, 0.26, "$", size=7, ref=axX)
txt(4.17, 0.72, "$", size=7, ref=axX)
letter(447, 622, "X")
txt(505, 640, "Closed times", size=7, bold=True)
txt(442, 692, "Proportion of response", size=6, bold=True, angle=-90)
legend_box(466, 652, 505, 680, [("●", WTC, "WT"), ("●", BLUE, "C665S")], size=6)

# Y
axY = axes(613, 699, 642, 706, [-0.2, 4.1], [0, 0.15], xtv=[0, 1, 2.5, 3.5],
           xtt=y_conditions + y_conditions, ytv=[0, 0.05, 0.10, 0.15],
           ytt=["0.00", "0.05", "0.10", "0.15"], tfs=5.5, xbold=False, xtfs=6.5)
fig.add_trace(go.Bar(x=[0, 1], y=y_wt, width=0.95, marker=dict(color=BLK, line=dict(color=BLK, width=0.5)),
                     error_y=dict(type="data", array=y_wt_err, symmetric=False, arrayminus=[0, 0],
                                  color="#555555", thickness=1, width=2),
                     xaxis=axY[0], yaxis=axY[1], hoverinfo="skip"))
fig.add_trace(go.Bar(x=[2.5, 3.5], y=y_c665s, width=0.95, marker=dict(color=BLUE, line=dict(color=BLUE, width=0.5)),
                     error_y=dict(type="data", array=y_c665s_err, symmetric=False, arrayminus=[0, 0],
                                  color="#555555", thickness=1, width=2),
                     xaxis=axY[0], yaxis=axY[1], hoverinfo="skip"))
txt(1, 0.130, "*", size=9, ref=axY)
txt(3.5, 0.068, "*$", size=8, ref=axY)
letter(597, 622, "Y")
txt(600, 674, "Mean NPo", size=7, bold=True, angle=-90)
hline(612, 645, 719, width=0.8)
hline(661, 694, 719, width=0.8)
txt(628, 725, "WT", size=6.5)
txt(677, 725, "C665S", size=6.5)

lay["annotations"] = ann
lay["shapes"] = shp
fig.update_layout(**lay)
fig.write_html("out.html", config={"displayModeBar": False, "staticPlot": True},
               post_script="document.body.style.margin='0px';document.body.style.padding='0px';"
                           "document.body.style.overflow='hidden';")
